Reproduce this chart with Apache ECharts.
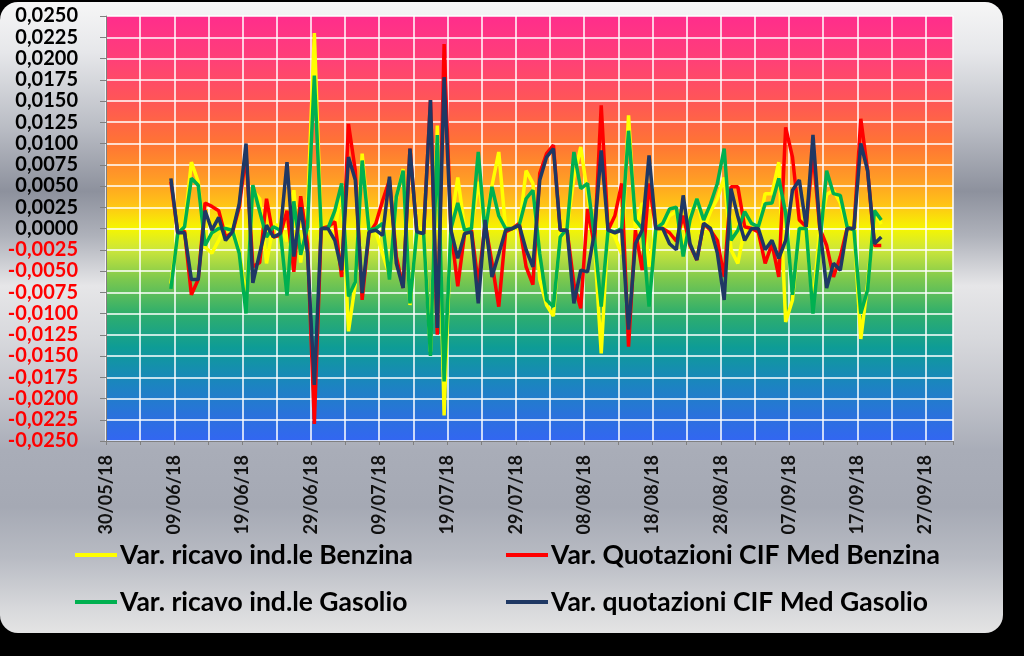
<!DOCTYPE html>
<html>
<head>
<meta charset="utf-8">
<script src="https://cdn.jsdelivr.net/npm/echarts@6/dist/echarts.min.js"></script>
<style>
html, body { margin: 0; padding: 0; background: #000; }
#chart { width: 1024px; height: 656px; }
</style>
</head>
<body>
<div id="chart"></div>
<script>
// giorni contati dal 30/05/18, primo dato = 08/06/18
var startDay = 9;
var axisDays = 124; // 30/05/18 -> 01/10/18
var tickLabels = ['30/05/18', '09/06/18', '19/06/18', '29/06/18', '09/07/18', '19/07/18', '29/07/18',
  '08/08/18', '18/08/18', '28/08/18', '07/09/18', '17/09/18', '27/09/18'];

var seriesNames = ['Var. ricavo ind.le Benzina', 'Var. Quotazioni CIF Med Benzina',
  'Var. ricavo ind.le Gasolio', 'Var. quotazioni CIF Med Gasolio'];

// Var. ricavo ind.le Benzina
var ricavoBenzina = [
  -0.0065, -0.0005, 0.0003, 0.0078, 0.0055, -0.0022, -0.0029, -0.0014, 0.0002, 0.0003,
  -0.0025, -0.0085, 0.0045, 0.0035, -0.0041, 0.0005, 0.0003, -0.0015, 0.0045, -0.0040,
  0.0020, 0.0230, 0.0000, -0.0001, -0.0005, 0.0050, -0.0121, -0.0065, 0.0088, 0.0002,
  -0.0004, -0.0030, -0.0055, 0.0035, 0.0070, -0.0090, 0.0000, 0.0000, -0.0145, 0.0121,
  -0.0220, 0.0005, 0.0060, 0.0000, 0.0000, 0.0055, 0.0000, 0.0050, 0.0090, 0.0000,
  0.0000, 0.0000, 0.0068, 0.0053, -0.0060, -0.0090, -0.0103, 0.0000, 0.0000, 0.0060,
  0.0096, 0.0040, -0.0015, -0.0147, 0.0000, -0.0010, -0.0030, 0.0133, 0.0000, 0.0030,
  -0.0045, 0.0000, 0.0000, 0.0015, 0.0020, -0.0020, 0.0015, 0.0035, 0.0000, 0.0020,
  0.0035, 0.0060, -0.0025, -0.0041, 0.0000, 0.0000, 0.0000, 0.0041, 0.0041, 0.0078,
  -0.0110, -0.0084, 0.0000, 0.0000, -0.0090, 0.0000, 0.0040, 0.0045, 0.0030, 0.0000,
  0.0000, -0.0130, -0.0065, 0.0020, 0.0005
];
// Var. Quotazioni CIF Med Benzina
var quotBenzina = [
  0.0055, -0.0005, -0.0003, -0.0078, -0.0060, 0.0030, 0.0026, 0.0021, -0.0010, -0.0005,
  0.0025, 0.0088, -0.0045, -0.0040, 0.0035, -0.0010, -0.0008, 0.0021, -0.0051, 0.0038,
  -0.0018, -0.0230, 0.0000, 0.0002, 0.0008, -0.0057, 0.0123, 0.0068, -0.0084, -0.0006,
  0.0006, 0.0033, 0.0057, -0.0033, -0.0070, 0.0094, -0.0004, -0.0006, 0.0151, -0.0125,
  0.0217, -0.0002, -0.0068, -0.0006, -0.0002, -0.0065, 0.0006, -0.0040, -0.0092, -0.0004,
  0.0000, 0.0006, -0.0045, -0.0066, 0.0065, 0.0088, 0.0098, -0.0002, -0.0002, -0.0065,
  -0.0094, 0.0023, -0.0020, 0.0145, -0.0002, 0.0015, 0.0053, -0.0139, -0.0002, -0.0049,
  0.0053, 0.0000, 0.0000, -0.0005, -0.0015, 0.0015, -0.0020, -0.0037, 0.0006, -0.0002,
  -0.0014, -0.0057, 0.0049, 0.0049, 0.0002, 0.0000, -0.0004, -0.0041, -0.0018, -0.0057,
  0.0119, 0.0084, 0.0010, 0.0002, 0.0090, 0.0000, -0.0020, -0.0057, -0.0033, 0.0000,
  0.0000, 0.0129, 0.0068, -0.0020, -0.0020
];
// Var. ricavo ind.le Gasolio
var ricavoGasolio = [
  -0.0071, -0.0006, 0.0002, 0.0059, 0.0051, -0.0020, -0.0005, 0.0000, 0.0000, -0.0002,
  -0.0029, -0.0100, 0.0051, 0.0020, -0.0010, 0.0002, -0.0002, -0.0079, 0.0032, -0.0031,
  0.0002, 0.0180, 0.0000, 0.0000, 0.0021, 0.0053, -0.0080, -0.0063, 0.0080, -0.0002,
  0.0000, 0.0006, -0.0060, 0.0037, 0.0068, -0.0088, -0.0004, -0.0006, -0.0150, 0.0110,
  -0.0180, 0.0000, 0.0030, -0.0002, 0.0000, 0.0090, -0.0005, 0.0049, 0.0015, 0.0000,
  0.0000, 0.0004, 0.0035, 0.0045, -0.0030, -0.0084, -0.0092, -0.0010, 0.0000, 0.0090,
  0.0047, 0.0053, -0.0010, -0.0092, -0.0002, -0.0004, 0.0000, 0.0115, 0.0010, 0.0000,
  -0.0092, 0.0000, 0.0006, 0.0023, 0.0025, -0.0033, 0.0010, 0.0035, 0.0010, 0.0029,
  0.0053, 0.0094, -0.0014, -0.0002, 0.0020, 0.0006, 0.0002, 0.0029, 0.0030, 0.0059,
  0.0018, -0.0078, 0.0000, 0.0000, -0.0100, -0.0020, 0.0068, 0.0041, 0.0039, 0.0002,
  -0.0002, -0.0100, -0.0072, 0.0021, 0.0010
];
// Var. quotazioni CIF Med Gasolio
var quotGasolio = [
  0.0059, -0.0005, -0.0005, -0.0060, -0.0060, 0.0021, -0.0002, 0.0013, -0.0014, -0.0004,
  0.0029, 0.0100, -0.0064, -0.0029, 0.0004, -0.0010, -0.0006, 0.0078, -0.0033, 0.0025,
  -0.0029, -0.0184, 0.0000, 0.0000, -0.0014, -0.0049, 0.0084, 0.0057, -0.0076, -0.0004,
  -0.0002, -0.0008, 0.0061, -0.0041, -0.0070, 0.0094, -0.0004, -0.0006, 0.0151, -0.0117,
  0.0178, -0.0002, -0.0035, -0.0006, -0.0004, -0.0088, 0.0010, -0.0057, -0.0030, -0.0002,
  0.0000, 0.0004, -0.0025, -0.0045, 0.0057, 0.0084, 0.0094, -0.0002, -0.0002, -0.0088,
  -0.0049, -0.0051, -0.0005, 0.0092, -0.0002, -0.0005, -0.0002, -0.0119, -0.0018, -0.0002,
  0.0086, 0.0000, 0.0000, -0.0018, -0.0025, 0.0039, -0.0018, -0.0037, 0.0006, 0.0000,
  -0.0029, -0.0084, 0.0047, 0.0014, -0.0014, 0.0000, 0.0000, -0.0025, -0.0014, -0.0035,
  -0.0014, 0.0045, 0.0057, 0.0002, 0.0110, 0.0002, -0.0070, -0.0041, -0.0049, 0.0000,
  0.0000, 0.0100, 0.0068, -0.0018, -0.0010
];

var lineColors = ['#ffff00', '#ff0000', '#00b050', '#1f3864'];
var font = 'Lato';

var myChart = echarts.init(document.getElementById('chart'));

// coppie [giorno, valore], il punto sta a metà del giorno
function toPoints(arr) {
  return arr.map(function (v, i) {
    return [startDay + i + 0.5, v];
  });
}

function makeSeries(name, arr, color) {
  return {
    name: name,
    type: 'line',
    data: toPoints(arr),
    showSymbol: false,
    symbol: 'none',
    silent: true,
    lineStyle: { color: color, width: 3.5 },
    itemStyle: { color: color }
  };
}

function makeLegend(name, left, top) {
  return {
    data: [name],
    left: left,
    top: top,
    padding: 0,
    selectedMode: false,
    icon: 'rect',
    itemWidth: 42,
    itemHeight: 4,
    itemGap: 0,
    textStyle: {
      fontFamily: font,
      fontWeight: 'bold',
      fontSize: 26.5,
      lineHeight: 30,
      color: '#000',
      padding: [0, 0, 0, -2]
    }
  };
}

var option = {
  backgroundColor: '#000',
  animation: false,
  graphic: [{
    type: 'rect',
    z: -10,
    shape: { x: 0, y: 2, width: 1003, height: 631, r: 18 },
    style: {
      fill: new echarts.graphic.LinearGradient(0, 0, 0, 1, [
        { offset: 0, color: '#f6f6f6' },
        { offset: 0.08, color: '#e6e7ea' },
        { offset: 0.2, color: '#b9bcc4' },
        { offset: 0.3, color: '#8d919d' },
        { offset: 0.37, color: '#aeb1ba' },
        { offset: 0.45, color: '#e6e6e8' },
        { offset: 0.53, color: '#d8d9dd' },
        { offset: 0.62, color: '#c3c5cc' },
        { offset: 0.71, color: '#a9adb8' },
        { offset: 0.8, color: '#a5a9b4' },
        { offset: 0.88, color: '#b8bbc3' },
        { offset: 0.96, color: '#d7d8db' },
        { offset: 1, color: '#e4e4e4' }
      ])
    }
  }],
  grid: {
    left: 106,
    top: 16,
    width: 847,
    height: 425,
    show: true,
    borderWidth: 0,
    backgroundColor: new echarts.graphic.LinearGradient(0, 0, 0, 1, [
      { offset: 0, color: '#ff2d8c' },
      { offset: 0.1, color: '#ff3f78' },
      { offset: 0.2, color: '#ff5656' },
      { offset: 0.3, color: '#ff7434' },
      { offset: 0.38, color: '#ff9a26' },
      { offset: 0.44, color: '#ffc018' },
      { offset: 0.5, color: '#f6f600' },
      { offset: 0.55, color: '#cce63a' },
      { offset: 0.62, color: '#7bc84e' },
      { offset: 0.7, color: '#2fae6c' },
      { offset: 0.78, color: '#0e9c96' },
      { offset: 0.86, color: '#1a86bd' },
      { offset: 0.94, color: '#2a72dc' },
      { offset: 1, color: '#3366f2' }
    ])
  },
  legend: [
    makeLegend(seriesNames[0], 75, 540),
    makeLegend(seriesNames[1], 506, 540),
    makeLegend(seriesNames[2], 75, 587),
    makeLegend(seriesNames[3], 506, 587)
  ],
  xAxis: {
    type: 'value',
    min: 0,
    max: axisDays,
    interval: 5,
    axisLine: { show: true, onZero: false, lineStyle: { color: '#808080', width: 1 } },
    axisTick: { show: true, length: 4, lineStyle: { color: '#808080' } },
    splitLine: { show: true, lineStyle: { color: '#ffffff', width: 1.5 } },
    axisLabel: {
      rotate: 90,
      margin: 14,
      padding: [10, 0, 0, 0],
      fontFamily: font,
      fontWeight: 'bold',
      fontSize: 18,
      color: '#111',
      formatter: function (v) {
        if (v % 10 !== 0) return '';
        return tickLabels[v / 10] || '';
      }
    }
  },
  yAxis: {
    type: 'value',
    min: -0.025,
    max: 0.025,
    interval: 0.0025,
    axisLine: { show: true, lineStyle: { color: '#808080', width: 1 } },
    axisTick: { show: true, length: 6, lineStyle: { color: '#808080' } },
    splitLine: { show: true, lineStyle: { color: '#ffffff', width: 1.5 } },
    axisLabel: {
      margin: 28,
      padding: [0, 0, 6, 0],
      fontFamily: font,
      fontWeight: 'bold',
      fontSize: 20,
      color: function (v) {
        return parseFloat(v) < -1e-9 ? '#ff0000' : '#000000';
      },
      formatter: function (v) {
        if (Math.abs(v) < 1e-9) v = 0;
        return v.toFixed(4).replace('.', ',');
      }
    }
  },
  series: [
    makeSeries(seriesNames[0], ricavoBenzina, lineColors[0]),
    makeSeries(seriesNames[1], quotBenzina, lineColors[1]),
    makeSeries(seriesNames[2], ricavoGasolio, lineColors[2]),
    makeSeries(seriesNames[3], quotGasolio, lineColors[3])
  ]
};

myChart.setOption(option);
</script>
</body>
</html>
